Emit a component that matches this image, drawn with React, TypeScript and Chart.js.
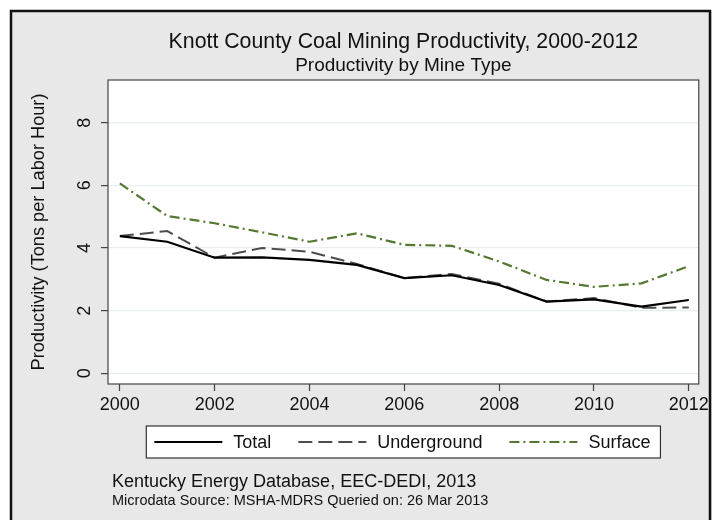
import React, { useEffect, useRef } from "react";
import { Chart, registerables } from "chart.js";

Chart.register(...registerables);

const years = [2000, 2001, 2002, 2003, 2004, 2005, 2006, 2007, 2008, 2009, 2010, 2011, 2012];
const totalValues = [4.38, 4.2, 3.69, 3.7, 3.62, 3.46, 3.04, 3.13, 2.82, 2.29, 2.36, 2.13, 2.34];
const undergroundValues = [4.38, 4.54, 3.69, 4.0, 3.88, 3.49, 3.04, 3.17, 2.86, 2.29, 2.4, 2.09, 2.1];
const surfaceValues = [6.06, 5.02, 4.79, 4.5, 4.2, 4.47, 4.1, 4.07, 3.57, 2.98, 2.76, 2.87, 3.42];
const seriesLabels = ["Total", "Underground", "Surface"];
const xTickValues = [2000, 2002, 2004, 2006, 2008, 2010, 2012];
const yTickValues = [0, 2, 4, 6, 8];

const titleText = "Knott County Coal Mining Productivity, 2000-2012";
const subtitleText = "Productivity by Mine Type";
const yAxisTitle = "Productivity (Tons per Labor Hour)";
const note1 = "Kentucky Energy Database, EEC-DEDI, 2013";
const note2 = "Microdata Source: MSHA-MDRS Queried on: 26 Mar 2013";

const FONT = "'Liberation Sans', Arial, Helvetica, sans-serif";

const framePlugin = {
  id: "stataFrame",
  beforeDraw(chart: any) {
    const { ctx, width, height, chartArea } = chart;
    ctx.save();
    ctx.fillStyle = "#ffffff";
    ctx.fillRect(0, 0, width, height);
    ctx.fillStyle = "#e8e8e8";
    ctx.fillRect(11, 11, width, height);
    ctx.strokeStyle = "#111";
    ctx.lineWidth = 2.5;
    ctx.strokeRect(11, 11, width - 13, height + 20);
    ctx.fillStyle = "#ffffff";
    ctx.fillRect(chartArea.left, chartArea.top, chartArea.right - chartArea.left, chartArea.bottom - chartArea.top);
    ctx.restore();
  },
  afterDraw(chart: any) {
    const { ctx, chartArea } = chart;
    const cx = (chartArea.left + chartArea.right) / 2;
    ctx.save();
    // plot region border
    ctx.strokeStyle = "#444";
    ctx.lineWidth = 1.2;
    ctx.strokeRect(chartArea.left, chartArea.top, chartArea.right - chartArea.left, chartArea.bottom - chartArea.top);

    // titles
    ctx.fillStyle = "#111";
    ctx.textAlign = "center";
    ctx.textBaseline = "middle";
    ctx.font = `21.3px ${FONT}`;
    ctx.fillText(titleText, cx, 42);
    ctx.font = `19px ${FONT}`;
    ctx.fillText(subtitleText, cx, 66);

    // legend
    ctx.font = `18px ${FONT}`;
    const sample = 68;
    const gapText = 11;
    const gapItem = 27;
    const padL = 8;
    const padR = 10;
    const widths = chart.data.datasets.map((d: any) => ctx.measureText(d.label).width);
    let inner = 0;
    widths.forEach((w: number, i: number) => {
      inner += sample + gapText + w + (i < widths.length - 1 ? gapItem : 0);
    });
    const boxW = padL + inner + padR;
    const boxL = cx - boxW / 2;
    const boxT = 426;
    const boxH = 32;
    ctx.fillStyle = "#ffffff";
    ctx.fillRect(boxL, boxT, boxW, boxH);
    ctx.strokeStyle = "#333";
    ctx.lineWidth = 1.2;
    ctx.strokeRect(boxL, boxT, boxW, boxH);
    let x = boxL + padL;
    const ly = boxT + boxH / 2;
    chart.data.datasets.forEach((d: any, i: number) => {
      ctx.save();
      ctx.strokeStyle = d.borderColor;
      ctx.lineWidth = d.borderWidth;
      ctx.setLineDash(d.borderDash || []);
      ctx.beginPath();
      ctx.moveTo(x, ly);
      ctx.lineTo(x + sample, ly);
      ctx.stroke();
      ctx.restore();
      ctx.fillStyle = "#111";
      ctx.textAlign = "left";
      ctx.textBaseline = "middle";
      ctx.fillText(d.label, x + sample + gapText, ly + 1);
      x += sample + gapText + widths[i] + gapItem;
    });

    // notes
    ctx.fillStyle = "#111";
    ctx.textAlign = "left";
    ctx.textBaseline = "middle";
    ctx.font = `18px ${FONT}`;
    ctx.fillText(note1, 112, 482);
    ctx.font = `14.5px ${FONT}`;
    ctx.fillText(note2, 112, 501);
    ctx.restore();
  },
};

export default function App() {
  const canvasRef = useRef<HTMLCanvasElement | null>(null);

  useEffect(() => {
    document.body.style.margin = "0";
    const canvas = canvasRef.current;
    if (!canvas) return;
    const toPoints = (vals: number[]) => years.map((y, i) => ({ x: y, y: vals[i] }));
    const chart = new Chart(canvas, {
      type: "line",
      data: {
        datasets: [
          {
            label: seriesLabels[0],
            data: toPoints(totalValues),
            borderColor: "#000000",
            borderWidth: 2.2,
            pointRadius: 0,
            tension: 0,
            fill: false,
          },
          {
            label: seriesLabels[1],
            data: toPoints(undergroundValues),
            borderColor: "#4d4d4d",
            borderWidth: 2,
            borderDash: [14, 6],
            pointRadius: 0,
            tension: 0,
            fill: false,
          },
          {
            label: seriesLabels[2],
            data: toPoints(surfaceValues),
            borderColor: "#557830",
            borderWidth: 2.2,
            borderDash: [10, 4, 2, 4],
            pointRadius: 0,
            tension: 0,
            fill: false,
          },
        ],
      },
      options: {
        animation: false,
        responsive: false,
        devicePixelRatio: 1,
        layout: { padding: { top: 80, right: 10, bottom: 0, left: 0 } },
        plugins: {
          legend: { display: false },
          title: { display: false },
          tooltip: { enabled: false },
        },
        scales: {
          x: {
            type: "linear",
            min: 1999.75,
            max: 2012.21,
            afterBuildTicks: (s: any) => {
              s.ticks = xTickValues.map((v) => ({ value: v }));
            },
            afterFit: (s: any) => {
              s.height = 136;
            },
            ticks: {
              autoSkip: false,
              maxRotation: 0,
              minRotation: 0,
              padding: 3,
              color: "#111",
              font: { family: FONT, size: 18 },
              callback: (v: any) => String(v),
            },
            grid: {
              drawOnChartArea: false,
              drawTicks: true,
              tickLength: 7,
              tickColor: "#444",
              tickWidth: 1.2,
            },
            border: { display: false },
          },
          y: {
            type: "linear",
            min: -0.34,
            max: 9.36,
            afterBuildTicks: (s: any) => {
              s.ticks = yTickValues.map((v) => ({ value: v }));
            },
            afterFit: (s: any) => {
              s.width = 108;
            },
            ticks: {
              autoSkip: false,
              minRotation: 90,
              maxRotation: 90,
              crossAlign: "center",
              padding: 11,
              color: "#111",
              font: { family: FONT, size: 18 },
              callback: (v: any) => String(v),
            },
            grid: {
              color: "#e9efef",
              lineWidth: 1.2,
              drawTicks: true,
              tickLength: 7,
              tickColor: "#444",
              tickWidth: 1.2,
            },
            border: { display: false },
            title: {
              display: true,
              text: yAxisTitle,
              color: "#111",
              font: { family: FONT, size: 18.2 },
              padding: { top: 28, bottom: 0 },
            },
          },
        },
      },
      plugins: [framePlugin],
    } as any);
    return () => chart.destroy();
  }, []);

  return (
    <canvas
      ref={canvasRef}
      width={712}
      height={520}
      style={{ display: "block", width: 712, height: 520 }}
    />
  );
}
